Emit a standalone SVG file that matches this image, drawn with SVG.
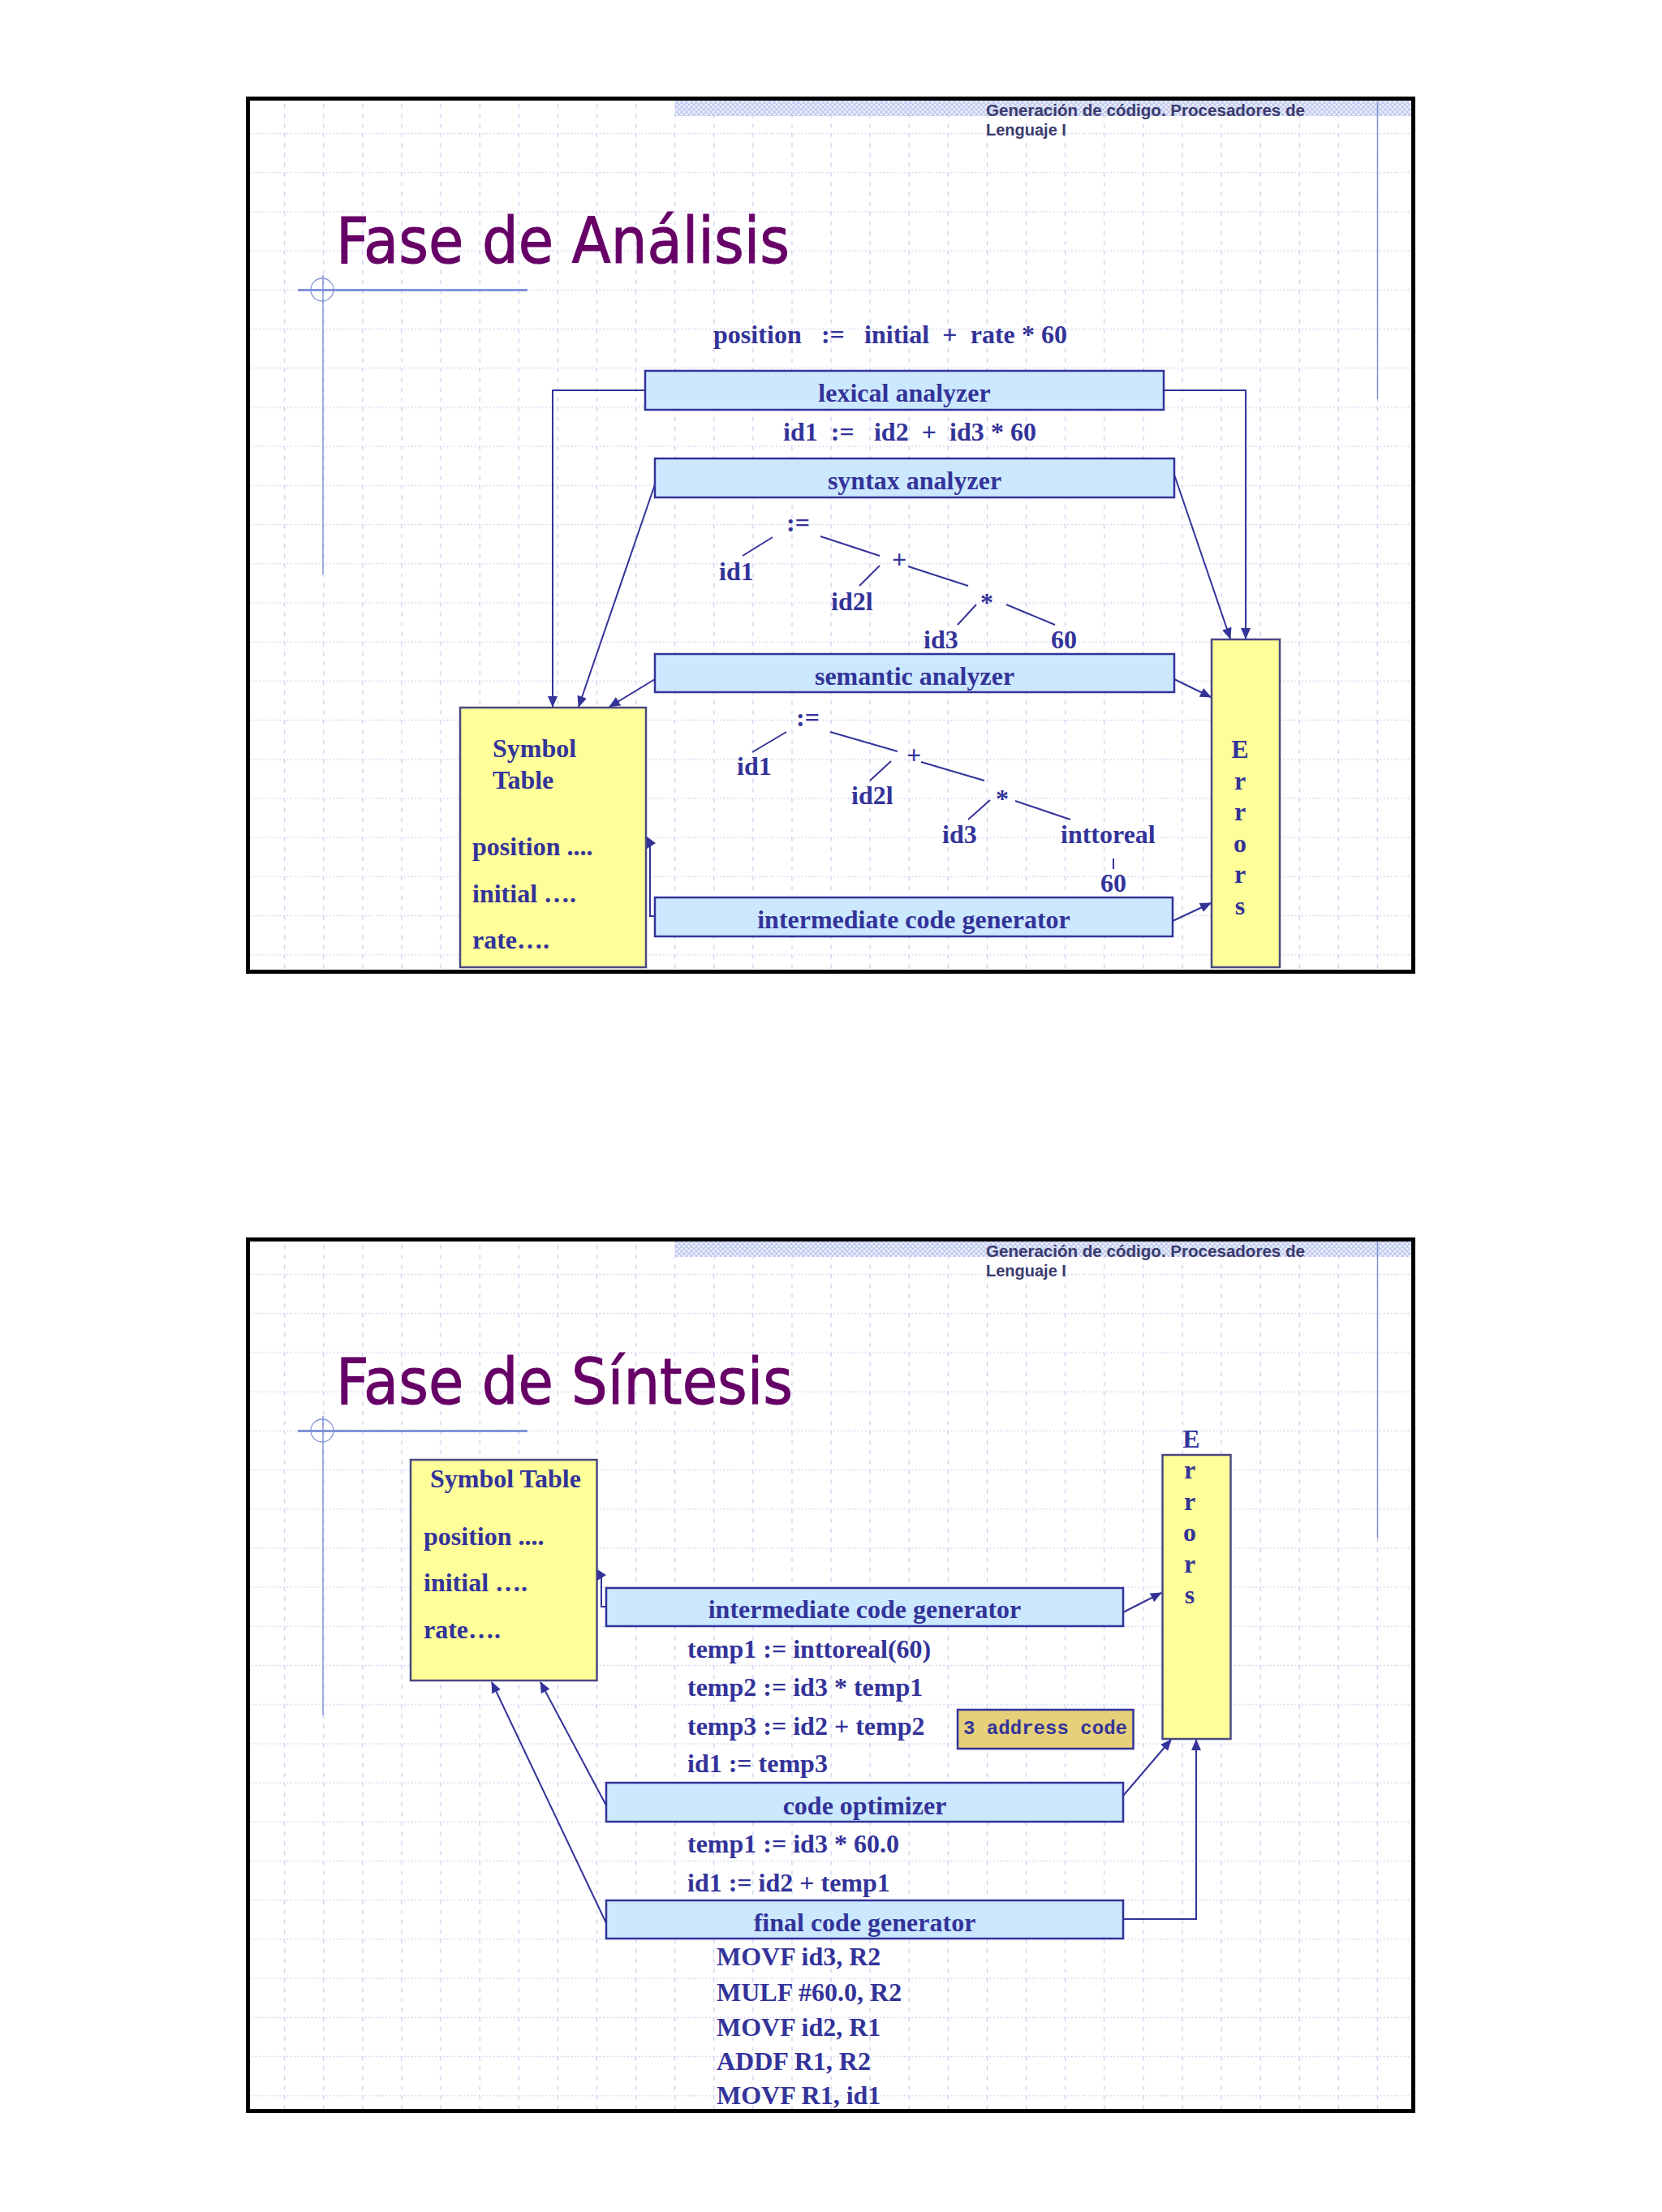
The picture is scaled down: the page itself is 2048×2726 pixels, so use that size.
<svg xmlns="http://www.w3.org/2000/svg" width="2048" height="2726" viewBox="0 0 2048 2726">
<style>
.t{font-family:"Liberation Serif","Times New Roman",serif;font-weight:bold;font-size:32px;fill:#333399;white-space:pre}
.m{text-anchor:middle}
.hdr{font-family:"Liberation Sans",Arial,sans-serif;font-weight:bold;font-size:20px;fill:#3b3b6d}
.title{font-family:"DejaVu Sans",Verdana,sans-serif;font-size:78px;fill:#660066;stroke:#660066;stroke-width:1}
.box{fill:#CCE8FF;stroke:#333399;stroke-width:2.5}
.yel{fill:#FFFF99;stroke:#4a4a80;stroke-width:2.5}
.addr{fill:#E6D07A;stroke:#333399;stroke-width:2.5}
.mono{font-family:"Liberation Mono","Courier New",monospace;font-weight:bold;font-size:24px;fill:#333399;white-space:pre}
.conn{fill:none;stroke:#333399;stroke-width:2}
.tree{stroke:#333399;stroke-width:2}
.frame{fill:none;stroke:#000;stroke-width:5}
.deco{stroke:#8193d9;fill:none}
</style>
<defs>
<marker id="arr" markerUnits="userSpaceOnUse" markerWidth="14" markerHeight="12" refX="13" refY="6" orient="auto">
<path d="M0,0 L14,6 L0,12 z" fill="#333399"/>
</marker>
<pattern id="hatch" patternUnits="userSpaceOnUse" width="6" height="6">
<rect width="6" height="6" fill="#f1f3fc"/>
<path d="M0,0 L6,6 M6,0 L0,6" stroke="#bcc6ee" stroke-width="1.3"/>
</pattern>
<pattern id="grid1" patternUnits="userSpaceOnUse" x="326.65" y="140.4" width="48.1" height="48.2">
<line x1="24.05" y1="0" x2="24.05" y2="48.2" stroke="#c9cbee" stroke-width="1.3" stroke-dasharray="5 7"/>
<line x1="0" y1="24.1" x2="48.1" y2="24.1" stroke="#c9cbee" stroke-width="1.5" stroke-dasharray="1.5 3"/>
</pattern>
<pattern id="grid2" patternUnits="userSpaceOnUse" x="326.65" y="1546.4" width="48.1" height="48.2">
<line x1="24.05" y1="0" x2="24.05" y2="48.2" stroke="#c9cbee" stroke-width="1.3" stroke-dasharray="5 7"/>
<line x1="0" y1="24.1" x2="48.1" y2="24.1" stroke="#c9cbee" stroke-width="1.5" stroke-dasharray="1.5 3"/>
</pattern>
</defs>
<rect width="2048" height="2726" fill="#ffffff"/>

<!-- ============ PAGE 1 ============ -->
<g id="page1-background">
<rect x="305.5" y="121.5" width="1436" height="1076" fill="url(#grid1)"/>
<rect x="832" y="124" width="908" height="19" fill="url(#hatch)"/>
<line class="deco" x1="1697.5" y1="125" x2="1697.5" y2="492" stroke-width="1.5"/>
<line class="deco" x1="367" y1="357.5" x2="650" y2="357.5" stroke-width="3"/>
<circle class="deco" cx="397" cy="357" r="14" stroke-width="1.3"/>
<line class="deco" x1="398" y1="339" x2="398" y2="708" stroke-width="1.5"/>
<text class="hdr" x="1215" y="143" textLength="393" lengthAdjust="spacingAndGlyphs">Generación de código. Procesadores de</text>
<text class="hdr" x="1215" y="167">Lenguaje I</text>
<text class="title" x="414" y="324" textLength="559" lengthAdjust="spacingAndGlyphs">Fase de Análisis</text>
<rect class="frame" x="305.5" y="121.5" width="1436" height="1076"/>
</g>

<g id="p1-source">
<text class="t" x="879" y="423" textLength="436">position   :=   initial  +  rate * 60</text>
</g>
<g id="p1-lexical">
<rect class="box" x="795" y="457" width="639" height="48"/>
<text class="t m" x="1114.5" y="495">lexical analyzer</text>
</g>
<g id="p1-tokens">
<text class="t" x="965" y="543" textLength="312">id1  :=   id2  +  id3 * 60</text>
</g>
<g id="p1-syntax">
<rect class="box" x="807" y="565" width="640" height="48"/>
<text class="t m" x="1127" y="603">syntax analyzer</text>
</g>
<g id="p1-tree1">
<text class="t" x="969" y="655">:=</text>
<text class="t" x="886" y="715">id1</text>
<text class="t m" x="1108" y="700">+</text>
<text class="t" x="1024" y="752">id2l</text>
<text class="t m" x="1216" y="753">*</text>
<text class="t" x="1138" y="799">id3</text>
<text class="t" x="1295" y="799">60</text>
<line class="tree" x1="952" y1="662" x2="915" y2="685"/>
<line class="tree" x1="1011" y1="661" x2="1084" y2="685"/>
<line class="tree" x1="1084" y1="697" x2="1059" y2="722"/>
<line class="tree" x1="1119" y1="698" x2="1193" y2="722"/>
<line class="tree" x1="1203" y1="745" x2="1180" y2="770"/>
<line class="tree" x1="1240" y1="745" x2="1300" y2="770"/>
</g>
<g id="p1-semantic">
<rect class="box" x="807" y="806" width="640" height="47"/>
<text class="t m" x="1127" y="844">semantic analyzer</text>
</g>
<g id="p1-tree2">
<text class="t" x="981" y="895">:=</text>
<text class="t" x="908" y="955">id1</text>
<text class="t m" x="1126" y="941">+</text>
<text class="t" x="1049" y="991">id2l</text>
<text class="t m" x="1235" y="995">*</text>
<text class="t" x="1161" y="1039">id3</text>
<text class="t" x="1307" y="1039">inttoreal</text>
<text class="t" x="1356" y="1099">60</text>
<line class="tree" x1="969" y1="902" x2="927" y2="927"/>
<line class="tree" x1="1023" y1="902" x2="1106" y2="926"/>
<line class="tree" x1="1098" y1="938" x2="1072" y2="962"/>
<line class="tree" x1="1135" y1="939" x2="1213" y2="962"/>
<line class="tree" x1="1220" y1="986" x2="1193" y2="1010"/>
<line class="tree" x1="1251" y1="987" x2="1319" y2="1010"/>
<line class="tree" x1="1372" y1="1058" x2="1372" y2="1071" stroke-width="1.5"/>
</g>
<g id="p1-intermediate">
<rect class="box" x="807" y="1106" width="638" height="48"/>
<text class="t m" x="1126" y="1144">intermediate code generator</text>
</g>
<g id="p1-symtab">
<rect class="yel" x="567" y="872" width="229" height="320"/>
<text class="t" x="607" y="933">Symbol</text>
<text class="t" x="607" y="972">Table</text>
<text class="t" x="582" y="1054">position ....</text>
<text class="t" x="582" y="1112">initial ….</text>
<text class="t" x="582" y="1169">rate….</text>
</g>
<g id="p1-errors">
<rect class="yel" x="1493" y="788" width="84" height="404"/>
<text class="t m" x="1528" y="934">E</text>
<text class="t m" x="1528" y="972.5">r</text>
<text class="t m" x="1528" y="1011">r</text>
<text class="t m" x="1528" y="1049.5">o</text>
<text class="t m" x="1528" y="1088">r</text>
<text class="t m" x="1528" y="1126.5">s</text>
</g>

<g id="p1-connectors">
<path class="conn" d="M795,481 H681 V871" marker-end="url(#arr)"/>
<path class="conn" d="M1434,481 H1535 V787" marker-end="url(#arr)"/>
<path class="conn" d="M807,597 L713,871" marker-end="url(#arr)"/>
<path class="conn" d="M1447,585 L1516,787" marker-end="url(#arr)"/>
<path class="conn" d="M807,837 L751,871" marker-end="url(#arr)"/>
<path class="conn" d="M1447,837 L1492,859" marker-end="url(#arr)"/>
<path class="conn" d="M1445,1135 L1492,1113" marker-end="url(#arr)"/>
<path class="conn" d="M807,1129 H801 V1040"/>
<polygon points="797,1031 808,1039 797,1046" fill="#333399"/>
</g>

<!-- ============ PAGE 2 ============ -->
<g id="page2-background">
<rect x="305.5" y="1527.5" width="1436" height="1074" fill="url(#grid2)"/>
<rect x="832" y="1530" width="908" height="19" fill="url(#hatch)"/>
<line class="deco" x1="1697.5" y1="1531" x2="1697.5" y2="1896" stroke-width="1.5"/>
<line class="deco" x1="367" y1="1763.5" x2="650" y2="1763.5" stroke-width="3"/>
<circle class="deco" cx="397" cy="1763" r="14" stroke-width="1.3"/>
<line class="deco" x1="398" y1="1745" x2="398" y2="2114" stroke-width="1.5"/>
<text class="hdr" x="1215" y="1549" textLength="393" lengthAdjust="spacingAndGlyphs">Generación de código. Procesadores de</text>
<text class="hdr" x="1215" y="1573">Lenguaje I</text>
<text class="title" x="414" y="1730" textLength="563" lengthAdjust="spacingAndGlyphs">Fase de Síntesis</text>
<rect class="frame" x="305.5" y="1527.5" width="1436" height="1074"/>
</g>

<g id="p2-symtab">
<rect class="yel" x="506" y="1799" width="229.5" height="272"/>
<text class="t" x="530" y="1833">Symbol Table</text>
<text class="t" x="522" y="1904">position ....</text>
<text class="t" x="522" y="1961">initial ….</text>
<text class="t" x="522" y="2019">rate….</text>
</g>
<g id="p2-errors">
<rect class="yel" x="1432.5" y="1793" width="84" height="350"/>
<text class="t m" x="1468" y="1784">E</text>
<text class="t m" x="1466" y="1822">r</text>
<text class="t m" x="1466" y="1861">r</text>
<text class="t m" x="1466" y="1899">o</text>
<text class="t m" x="1466" y="1938">r</text>
<text class="t m" x="1466" y="1976">s</text>
</g>
<g id="p2-intermediate">
<rect class="box" x="747" y="1957" width="637" height="47"/>
<text class="t m" x="1065.5" y="1994">intermediate code generator</text>
</g>
<g id="p2-code3">
<text class="t" x="847" y="2043">temp1 := inttoreal(60)</text>
<text class="t" x="847" y="2090">temp2 := id3 * temp1</text>
<text class="t" x="847" y="2138">temp3 := id2 + temp2</text>
<text class="t" x="847" y="2184">id1 := temp3</text>
</g>
<g id="p2-address">
<rect class="addr" x="1180" y="2107" width="216.5" height="48"/>
<text class="mono" x="1187" y="2137" textLength="202">3 address code</text>
</g>
<g id="p2-optimizer">
<rect class="box" x="747" y="2197" width="637" height="48"/>
<text class="t m" x="1065.5" y="2236">code optimizer</text>
</g>
<g id="p2-optcode">
<text class="t" x="847" y="2283">temp1 := id3 * 60.0</text>
<text class="t" x="847" y="2331">id1 := id2 + temp1</text>
</g>
<g id="p2-final">
<rect class="box" x="747" y="2342" width="637" height="47"/>
<text class="t m" x="1065.5" y="2380">final code generator</text>
</g>
<g id="p2-asm">
<text class="t" x="883" y="2422">MOVF id3, R2</text>
<text class="t" x="883" y="2466">MULF #60.0, R2</text>
<text class="t" x="883" y="2509">MOVF id2, R1</text>
<text class="t" x="883" y="2551">ADDF R1, R2</text>
<text class="t" x="883" y="2593">MOVF R1, id1</text>
</g>

<g id="p2-connectors">
<path class="conn" d="M747,1980 H741 V1942"/>
<polygon points="736,1934 747,1941 736,1948" fill="#333399"/>
<path class="conn" d="M1384,1987 L1431,1963" marker-end="url(#arr)"/>
<path class="conn" d="M747,2225 L666,2073" marker-end="url(#arr)"/>
<path class="conn" d="M747,2370 L606,2073" marker-end="url(#arr)"/>
<path class="conn" d="M1384,2213 L1443,2144" marker-end="url(#arr)"/>
<path class="conn" d="M1384,2365 H1474 V2144" marker-end="url(#arr)"/>
</g>
</svg>
